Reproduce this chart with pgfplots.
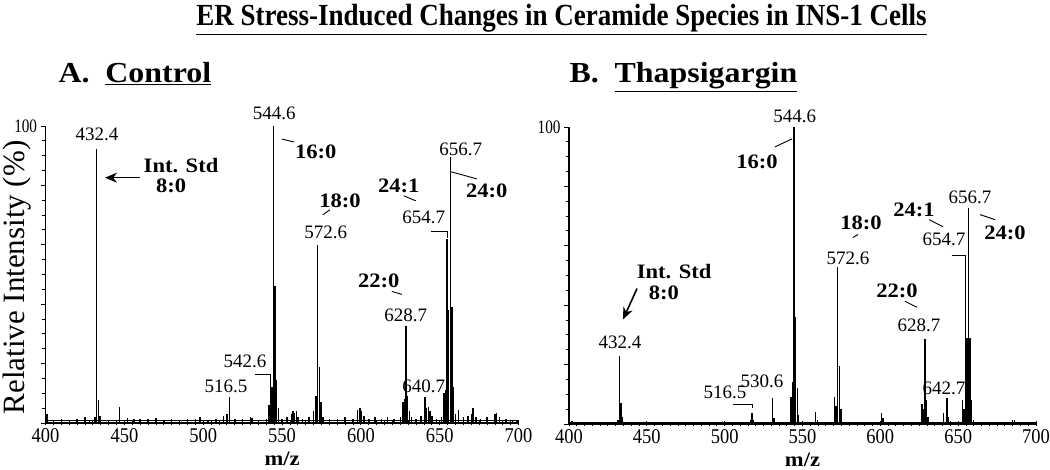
\documentclass[border=0pt]{standalone}
\usepackage{fontspec}
\setmainfont{Liberation Serif}
\newfontfamily\cond{Liberation Serif}[FakeStretch=0.88]
\newfontfamily\ycond{Liberation Serif}[FakeStretch=0.8]
\newfontfamily\wide{Liberation Serif}[FakeStretch=1.1]
\usepackage{pgfplots}
\pgfplotsset{compat=1.18}
\usetikzlibrary{arrows.meta}
\newcommand{\tickf}{\cond\fontsize{21}{21}\selectfont}
\newcommand{\numf}{\fontsize{19}{19}\selectfont}
\newcommand{\spf}{\wide\bfseries\fontsize{20.5}{20.5}\selectfont}

\pgfplotstableread{
x y
401 3
405 1
410 1.2
415 1
420 1.5
425 2
428 1
431.4 2
432.4 92.4
433.4 7.7
434.4 2.5
447 5.5
452 1.8
456 1.5
460 1.2
465 1.5
470 1.8
475 1
480 1.2
485 1
490 1.5
495 1.2
498 2
503 1
508 1.2
513 2.5
515 3
516.5 8.9
520 1.5
525 1.5
530 2
531 1.8
535 1
540 1.5
541.6 6
542.6 15.7
543.6 12
544.6 100
545.6 46
546.6 14.5
547.6 5
550 1.5
553 2
556 3
557 4
558 3.5
559 4
560 2
563 1.5
567 2
570 4
571.6 9
572.6 60
573.6 19
574.6 7
576 2
580 1.5
585 1.5
590 2
595 1.5
598 4.5
599.5 5
600.5 4
602 2.5
605 1.5
609 2
613 1.5
617 2
621 1.5
625 2
626.7 7
627.7 8
628.7 32.7
629.7 9
630.7 4
632 2
635 1.5
638 2.5
640.7 8.9
641.7 5
642.7 5.5
643.7 4
645 2.5
648 1.5
651 2
652.7 10
653.7 11
654.7 62
655.7 38
656.7 89.5
657.7 39
658.7 12
660 3
662 4.5
665 2
668 2.5
670 3
671 5
673 2
676 1.5
680 2
685 3
686 3.5
688 2
692 1.5
696 1
699 1
}\specA

\pgfplotstableread{
x y
402 1
410 0.8
420 0.8
431.4 1.5
432.4 22.9
433.4 7
434.4 2.5
445 0.6
460 0.6
480 0.6
500 0.6
510 0.8
516.5 1.5
517.6 3.6
518.6 1.5
525 0.8
530.6 8.7
531.6 2
540 0.8
542.6 9
543.6 14
544.6 100
545.6 36
546.6 12
547.6 3
552 0.8
558.5 4
559.5 1.5
565 0.8
570.6 9
571.6 6
572.6 53
573.6 19.5
574.6 5
580 0.8
590 0.8
600.6 3.6
601.6 2
610 0.8
620 0.8
626.7 6.6
627.7 5
628.7 28.6
629.7 8
630.7 2.5
640.7 3.6
642.7 8.7
643.7 2.5
645 1
652.7 8
653.7 5
654.7 55.8
655.7 29
656.7 72.8
657.7 29
658.7 8
660 1.5
670 0.8
680 0.8
685 1.2
686 1.5
690 0.7
}\specB

\pgfplotsset{ms/.style={
  scale only axis, height=297pt,
  xmin=400, xmax=700, ymin=0, ymax=100,
  axis x line=bottom, axis y line=left,
  axis line style={-, line width=1.3pt},
  xtick={400,450,...,700}, minor x tick num=9,
  ytick={0,20,...,100}, yticklabels={,,,,,100}, minor y tick num=3,
  major tick length=5pt, minor tick length=3.5pt,
  tick style={black, line width=0.9pt},
  ytick align=outside, xtick align=center,
  clip=false,
  xticklabel style={font=\tickf},
  yticklabel style={font=\ycond\fontsize{19}{19}\selectfont},
  /pgf/number format/assume math mode=true,
  /pgf/number format/set thousands separator={},
  xlabel={m/z},
  xlabel style={font=\spf, at={(axis description cs:0.5,0)}, anchor=center, yshift=-36pt},
}}

\begin{document}
\begin{tikzpicture}
% title
\node[anchor=base, font=\bfseries\cond\fontsize{30.7}{31}\selectfont] at (561.5pt,444pt) {\underline{ER Stress-Induced Changes in Ceramide Species in INS-1 Cells}};
\node[anchor=base west, font=\bfseries\wide\fontsize{29}{29}\selectfont] at (55pt,387pt) {A.\ \ \underline{Control}};
\node[anchor=base west, font=\bfseries\wide\fontsize{29}{29}\selectfont] at (566pt,387pt) {B.\ \ \underline{Thapsigargin}};

% Panel A
\begin{axis}[ms, at={(45.6pt,47pt)}, anchor=origin, width=473pt,
  ylabel={Relative Intensity (\%)},
  ylabel style={font=\fontsize{31}{31}\selectfont, at={(axis description cs:-0.06,0.49)}, anchor=center}]
\addplot[black, line width=0.9pt] coordinates {(400,0.7) (700,0.7)};
\addplot[ycomb, black, line width=1.4pt] table[x=x,y=y] {\specA};
\node[font=\numf] at (axis cs:432.6,97.3) {432.4};
\node[font=\numf] at (axis cs:545,104.4) {544.6};
\node[font=\spf] at (axis cs:571.4,91.3) {16:0};
\draw[line width=0.9pt] (axis cs:549.9,95.6) -- (axis cs:557.5,94.6);
\node[font=\spf] at (axis cs:485.9,86.6) {Int. Std};
\node[font=\spf] at (axis cs:479.6,79.9) {8:0};
\draw[-{Stealth[length=12pt,width=10pt]}, line width=1.6pt] (axis cs:459.9,82.6) -- (axis cs:437.7,82.6);
\node[font=\numf] at (axis cs:663.3,92.3) {656.7};
\node[font=\spf] at (axis cs:679.8,78.2) {24:0};
\draw[line width=0.9pt] (axis cs:657,84.6) -- (axis cs:673.5,82.2);
\node[font=\spf] at (axis cs:624,79.9) {24:1};
\draw[line width=0.9pt] (axis cs:627.2,76.5) -- (axis cs:634.8,74.8);
\node[font=\numf] at (axis cs:639.9,69.1) {654.7};
\draw[line width=0.9pt] (axis cs:644.3,64.4) -- (axis cs:654.7,64.4) -- (axis cs:654.7,62.4);
\node[font=\spf] at (axis cs:586.7,74.8) {18:0};
\draw[line width=0.9pt] (axis cs:575.9,70.1) -- (axis cs:580.3,71.8);
\node[font=\numf] at (axis cs:577.7,64.1) {572.6};
\node[font=\spf] at (axis cs:611.3,47.7) {22:0};
\draw[line width=0.9pt] (axis cs:619.6,44.3) -- (axis cs:626,43.3);
\node[font=\numf] at (axis cs:628.5,36.2) {628.7};
\node[font=\numf] at (axis cs:526.4,20.8) {542.6};
\draw[line width=0.9pt] (axis cs:532.8,16.4) -- (axis cs:542.6,16.4) -- (axis cs:542.6,14.8);
\node[font=\numf] at (axis cs:514.4,12.4) {516.5};
\node[font=\numf] at (axis cs:639.9,12.4) {640.7};
\end{axis}

% Panel B
\begin{axis}[ms, at={(569pt,46pt)}, anchor=origin, width=467pt]
\addplot[black, line width=0.9pt] coordinates {(400,0.5) (700,0.5)};
\addplot[ycomb, black, line width=1.4pt] table[x=x,y=y] {\specB};
\node[font=\numf] at (axis cs:545,103.5) {544.6};
\node[font=\spf] at (axis cs:520.8,88.3) {16:0};
\draw[line width=0.9pt] (axis cs:532.3,93.3) -- (axis cs:543.3,96);
\node[font=\spf] at (axis cs:587.6,67.8) {18:0};
\draw[line width=0.9pt] (axis cs:582.4,62.8) -- (axis cs:585.7,63.8);
\node[font=\numf] at (axis cs:579.2,55.7) {572.6};
\node[font=\spf] at (axis cs:621.6,72.2) {24:1};
\draw[line width=0.9pt] (axis cs:631.3,68.8) -- (axis cs:640.3,66.4);
\node[font=\numf] at (axis cs:657.6,76.2) {656.7};
\node[font=\spf] at (axis cs:680.1,64.4) {24:0};
\draw[line width=0.9pt] (axis cs:664,70.5) -- (axis cs:673.7,68.8);
\node[font=\numf] at (axis cs:640.9,62.1) {654.7};
\draw[line width=0.9pt] (axis cs:646,56.7) -- (axis cs:654.7,56.7) -- (axis cs:654.7,55.4);
\node[font=\spf] at (axis cs:610.7,45) {22:0};
\draw[line width=0.9pt] (axis cs:615.8,41.3) -- (axis cs:623.6,39.3);
\node[font=\numf] at (axis cs:624.8,33.2) {628.7};
\node[font=\spf] at (axis cs:467.5,51.3) {Int. Std};
\node[font=\spf] at (axis cs:461,44.3) {8:0};
\draw[-{Stealth[length=12pt,width=10pt]}, line width=1.6pt] (axis cs:443.7,45.6) -- (axis cs:434.7,35.2);
\node[font=\numf] at (axis cs:432.8,27.5) {432.4};
\node[font=\numf] at (axis cs:500.2,10.7) {516.5};
\draw[line width=0.9pt] (axis cs:505.4,6.7) -- (axis cs:517.6,6.7) -- (axis cs:517.6,5.4);
\node[font=\numf] at (axis cs:524,14.4) {530.6};
\node[font=\numf] at (axis cs:640.9,12.1) {642.7};
\end{axis}

\pgfresetboundingbox
\useasboundingbox (0,0) rectangle (1050pt,470pt);
\end{tikzpicture}
\end{document}
